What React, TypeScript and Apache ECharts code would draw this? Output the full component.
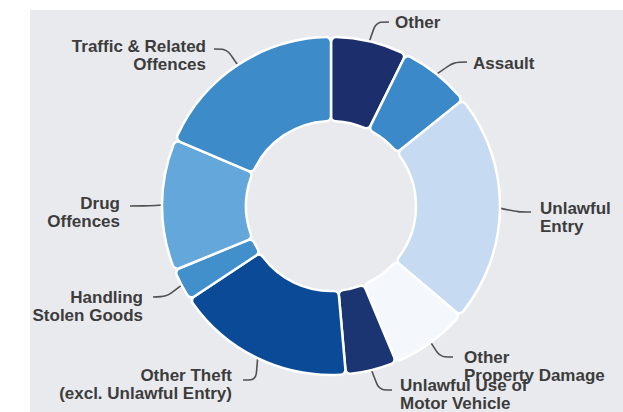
import React, { useEffect, useRef } from "react";
import * as echarts from "echarts";

const CATEGORIES = [
  "Other",
  "Assault",
  "Unlawful\nEntry",
  "Other\nProperty Damage",
  "Unlawful Use of\nMotor Vehicle",
  "Other Theft\n(excl. Unlawful Entry)",
  "Handling\nStolen Goods",
  "Drug\nOffences",
  "Traffic & Related\nOffences",
];
const VALUES = [7.3, 6.9, 22.0, 7.5, 4.9, 17.1, 3.1, 12.6, 18.6];
const COLORS = [
  "#1c2f6c",
  "#3b89c8",
  "#c6daf1",
  "#f4f7fc",
  "#1b3573",
  "#0b4a96",
  "#4190cc",
  "#64a7da",
  "#3d8bc8",
];

// label layout: end point of leader line, text anchor x, text block top
const LABEL_ENDS: number[][] = [
  [389, 22],
  [467, 62],
  [531, 212],
  [453, 357],
  [392, 390],
  [243, 380],
  [153, 297],
  [130, 206],
  [214, 49],
];
const LABEL_TEXT_X = [395, 473, 540, 464, 400, 232, 143, 120, 206];
const LABEL_TOPS = [13, 54, 199, 348, 376, 366, 288, 194, 37];

const CX = 331;
const CY = 206;

export default function App() {
  const ref = useRef<HTMLDivElement>(null);
  useEffect(() => {
    if (!ref.current) return;
    const chart = echarts.init(ref.current, undefined, { renderer: "svg" });
    chart.setOption({
      animation: false,
      series: [
        {
          type: "pie",
          center: [CX, CY],
          radius: [85, 169],
          startAngle: 90,
          clockwise: true,
          avoidLabelOverlap: false,
          silent: true,
          itemStyle: {
            borderColor: "#ffffff",
            borderWidth: 2.5,
            borderRadius: 5,
          },
          label: {
            show: true,
            position: "outside",
            fontSize: 17,
            fontWeight: "bold",
            lineHeight: 18,
            color: "#3c3c3c",
            fontFamily: "'Liberation Sans', Arial, sans-serif",
          },
          labelLine: {
            show: true,
            length: 12,
            length2: 14,
            smooth: 0.3,
            lineStyle: { color: "#505050", width: 1.6 },
          },
          labelLayout: (params: any) => {
            const i = params.dataIndex;
            const [ex, ey] = LABEL_ENDS[i];
            const right = ex > CX;
            const pts = params.labelLinePoints;
            const start = pts && pts[0] ? pts[0] : [ex, ey];
            const bend = [right ? ex - 13 : ex + 13, ey];
            return {
              x: LABEL_TEXT_X[i],
              y: LABEL_TOPS[i],
              align: right ? "left" : "right",
              verticalAlign: "top",
              labelLinePoints: [start, bend, [ex, ey]],
            };
          },
          data: CATEGORIES.map((name, i) => ({
            name,
            value: VALUES[i],
            itemStyle: { color: COLORS[i] },
          })),
        },
      ],
    });
    return () => chart.dispose();
  }, []);
  return (
    <div
      style={{
        position: "absolute",
        left: 0,
        top: 0,
        width: 623,
        height: 412,
        background: "#ffffff",
        overflow: "hidden",
      }}
    >
      <div
        style={{
          position: "absolute",
          left: 30,
          top: 10,
          width: 593,
          height: 402,
          background: "#e9eaee",
        }}
      />
      <div
        ref={ref}
        style={{ position: "absolute", left: 0, top: 0, width: 623, height: 412 }}
      />
    </div>
  );
}
